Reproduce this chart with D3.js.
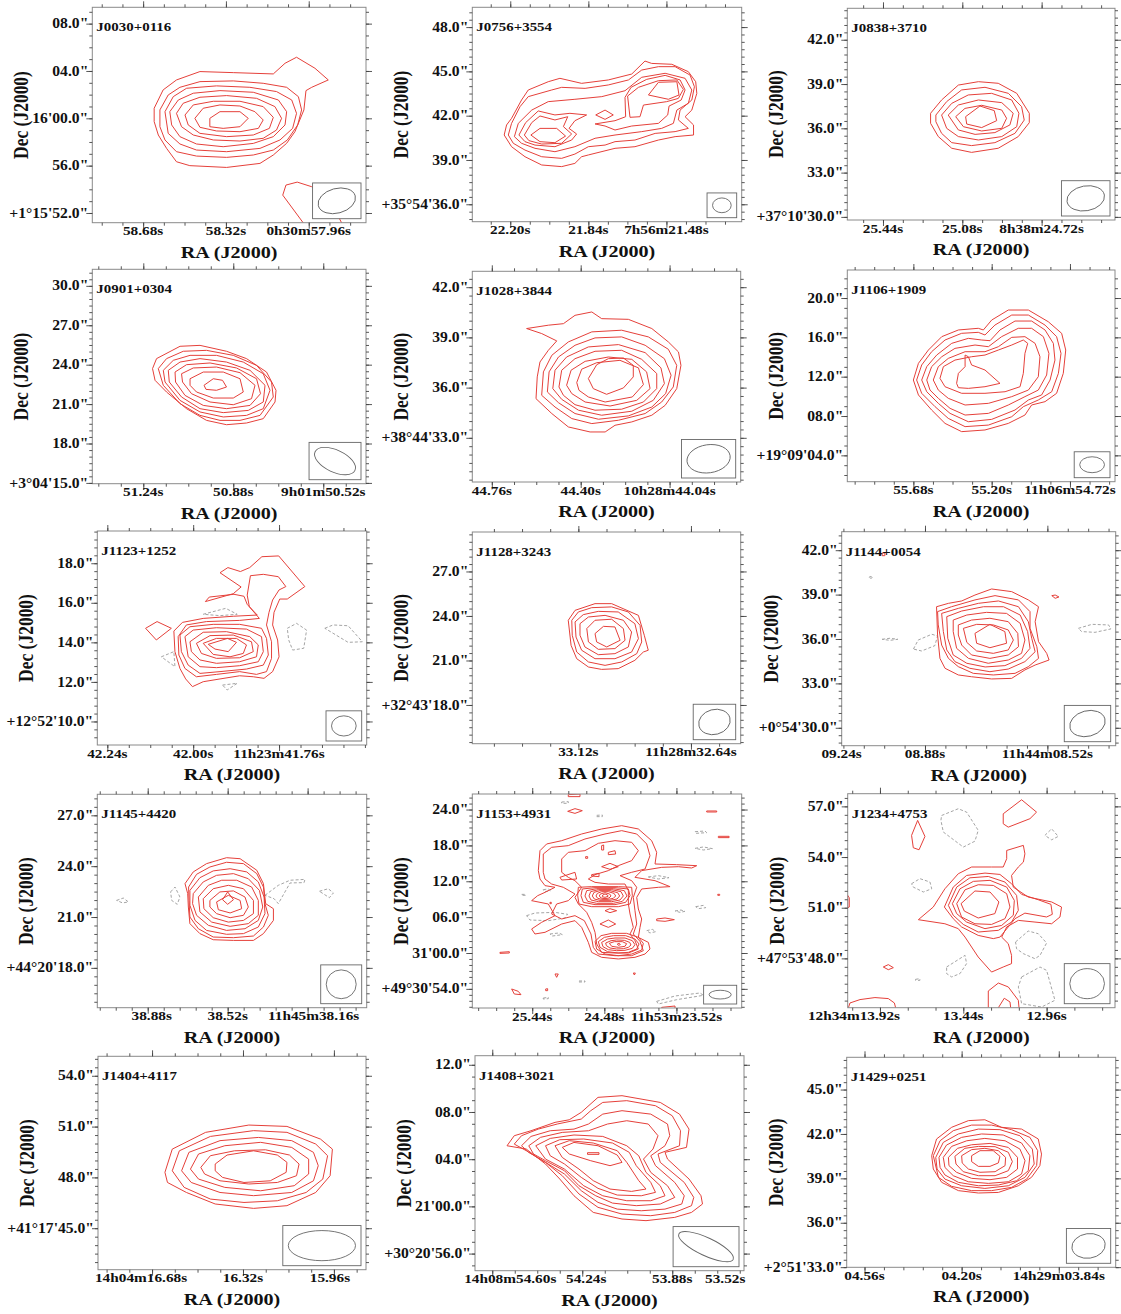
<!DOCTYPE html>
<html><head><meta charset="utf-8">
<script src="https://cdn.jsdelivr.net/npm/d3@7"></script>
<style>
body{margin:0;background:#fff}
svg{display:block}
text{font-family:"Liberation Serif","Times New Roman",serif;font-weight:bold;fill:#111}
</style>
</head><body>
<svg id="fig" width="1121" height="1314"></svg>
<script>
// ---------------- Sources and axes ----------------
// RA offsets are in seconds of time (east positive), Dec offsets in arcsec,
// both relative to the central labelled tick of each map.
const names = ["J0030+0116","J0756+3554","J0838+3710","J0901+0304","J1028+3844","J1106+1909",
  "J1123+1252","J1128+3243","J1144+0054","J1145+4420","J1153+4931","J1234+4753",
  "J1404+4117","J1408+3021","J1429+0251"];

const raRange = [[0.581,-0.609],[0.535,-0.707],[0.522,-0.693],[0.564,-0.531],[0.439,-0.648],[0.885,-0.756],
  [0.268,-0.485],[0.452,-0.692],[0.245,-0.561],[0.587,-0.626],[1.758,-1.829],[0.666,-0.874],
  [0.574,-0.487],[0.429,-0.647],[0.426,-0.571]];
const decRange = [[-8.82,9.38],[-7.18,7.34],[-6.21,8.13],[-9.06,7.26],[-5.64,6.95],[-10.68,10.85],
  [-5.19,5.63],[-8.61,5.66],[-7.21,7.25],[-5.35,7.24],[-9.2,26.6],[-5.92,6.75],
  [-5.45,7.15],[-5.45,12.77],[-6.01,8.18]];

const raTicks = [[0.36,0,-0.36],[0.36,0,-0.36],[0.36,0,-0.36],[0.36,0,-0.36],[0.36,0,-0.36],[0.48,0,-0.48],
  [0.24,0,-0.24],[0,-0.48],[0.36,0,-0.36],[0.36,0,-0.36],[0.96,0,-0.96],[0.48,0,-0.48],
  [0.36,0,-0.36],[0.36,0,-0.36,-0.72],[0.36,0,-0.36]];
const raLabels = [["58.68s","58.32s","0h30m57.96s"],["22.20s","21.84s","7h56m21.48s"],["25.44s","25.08s","8h38m24.72s"],
  ["51.24s","50.88s","9h01m50.52s"],["44.76s","44.40s","10h28m44.04s"],["55.68s","55.20s","11h06m54.72s"],
  ["42.24s","42.00s","11h23m41.76s"],["33.12s","11h28m32.64s"],["09.24s","08.88s","11h44m08.52s"],
  ["38.88s","38.52s","11h45m38.16s"],["25.44s","24.48s","11h53m23.52s"],["12h34m13.92s","13.44s","12.96s"],
  ["14h04m16.68s","16.32s","15.96s"],["14h08m54.60s","54.24s","53.88s","53.52s"],["04.56s","04.20s","14h29m03.84s"]];
const raMinor = [0.09,0.09,0.09,0.09,0.09,0.12,0.06,0.12,0.06,0.072,0.24,0.16,0.09,0.09,0.072];

const decTicks = [[-8,-4,0,4,8],[-6,-3,0,3,6],[-6,-3,0,3,6],[-9,-6,-3,0,3,6],[-3,0,3,6],[-8,-4,0,4,8],
  [-4,-2,0,2,4],[-6,-3,0,3],[-6,-3,0,3,6],[-3,0,3,6],[-6,0,6,12,18,24],[-3,0,3,6],
  [-3,0,3,6],[-4,0,4,8,12],[-6,-3,0,3,6]];
const decLabels = [
  ["+1°15'52.0\"","56.0\"","16'00.0\"","04.0\"","08.0\""],
  ["+35°54'36.0\"","39.0\"","42.0\"","45.0\"","48.0\""],
  ["+37°10'30.0\"","33.0\"","36.0\"","39.0\"","42.0\""],
  ["+3°04'15.0\"","18.0\"","21.0\"","24.0\"","27.0\"","30.0\""],
  ["+38°44'33.0\"","36.0\"","39.0\"","42.0\""],
  ["+19°09'04.0\"","08.0\"","12.0\"","16.0\"","20.0\""],
  ["+12°52'10.0\"","12.0\"","14.0\"","16.0\"","18.0\""],
  ["+32°43'18.0\"","21.0\"","24.0\"","27.0\""],
  ["+0°54'30.0\"","33.0\"","36.0\"","39.0\"","42.0\""],
  ["+44°20'18.0\"","21.0\"","24.0\"","27.0\""],
  ["+49°30'54.0\"","31'00.0\"","06.0\"","12.0\"","18.0\"","24.0\""],
  ["+47°53'48.0\"","51.0\"","54.0\"","57.0\""],
  ["+41°17'45.0\"","48.0\"","51.0\"","54.0\""],
  ["+30°20'56.0\"","21'00.0\"","04.0\"","08.0\"","12.0\""],
  ["+2°51'33.0\"","36.0\"","39.0\"","42.0\"","45.0\""]];
const decMinor = [1,0.5,0.5,0.5,0.5,1,0.4,0.5,0.5,0.5,1,0.5,0.5,1,0.5];

// restoring beam: [RA semi-axis (s), Dec semi-axis ("), position angle on the page (deg)]
const beams = [[0.083,1.04,-15],[0.043,0.50,0],[0.086,0.84,-10],[0.088,0.84,25],[0.088,0.84,-8],[0.076,0.81,0],
  [0.0345,0.51,0],[0.068,0.84,-15],[0.053,0.86,-15],[0.0675,0.85,0],[0.147,0.73,0],[0.100,0.89,0],
  [0.133,0.89,0],[0.120,0.76,25],[0.062,0.83,-8]];

// ---------------- Contours ----------------
const J0030_pos = [
 [[0.312,0.85],[0.273,2.40],[0.215,3.24],[0.113,3.95],[-0.032,3.86],[-0.206,3.75],[-0.257,4.65],[-0.307,5.16],[-0.387,4.23],[-0.445,3.24],[-0.373,2.62],[-0.348,2.34],[-0.339,0.71],[-0.300,-1.13],[-0.264,-2.11],[-0.206,-3.10],[-0.148,-3.81],[-0.003,-4.15],[0.157,-4.00],[0.215,-3.67],[0.258,-2.54],[0.294,-1.41],[0.312,-0.28]],
 [[0.287,0.71],[0.251,1.97],[0.200,2.62],[0.113,3.10],[-0.032,3.16],[-0.162,2.96],[-0.264,2.62],[-0.315,1.83],[-0.329,0.71],[-0.312,-0.56],[-0.267,-1.83],[-0.206,-2.68],[-0.119,-3.10],[-0.003,-3.30],[0.128,-3.19],[0.215,-2.82],[0.265,-1.83],[0.287,-0.71]],
 [[0.265,0.56],[0.229,1.83],[0.171,2.54],[0.041,2.74],[-0.104,2.62],[-0.220,2.26],[-0.286,1.55],[-0.307,0.42],[-0.290,-0.85],[-0.235,-1.83],[-0.148,-2.54],[-0.003,-2.82],[0.128,-2.68],[0.200,-2.17],[0.251,-1.27]],
 [[0.244,0.56],[0.207,1.55],[0.142,2.12],[0.026,2.34],[-0.119,2.20],[-0.228,1.55],[-0.264,0.56],[-0.257,-0.56],[-0.206,-1.55],[-0.119,-2.12],[0.012,-2.40],[0.128,-2.17],[0.200,-1.55],[0.236,-0.56]],
 [[0.215,0.42],[0.186,1.27],[0.113,1.78],[-0.003,1.92],[-0.133,1.69],[-0.213,0.99],[-0.242,0.00],[-0.220,-0.99],[-0.162,-1.69],[-0.061,-1.92],[0.055,-1.83],[0.142,-1.41],[0.193,-0.71]],
 [[0.178,0.28],[0.142,1.13],[0.055,1.44],[-0.061,1.44],[-0.162,0.99],[-0.206,0.08],[-0.189,-0.85],[-0.119,-1.41],[-0.003,-1.55],[0.113,-1.27],[0.164,-0.56]],
 [[0.135,0.00],[0.099,0.85],[0.026,1.13],[-0.061,1.04],[-0.126,0.56],[-0.162,-0.14],[-0.141,-0.85],[-0.061,-1.13],[0.041,-1.07],[0.113,-0.76]],
 [[0.070,0.00],[0.026,0.56],[-0.061,0.56],[-0.097,0.00],[-0.061,-0.71],[0.012,-0.85],[0.070,-0.71]]];
const J0030_open = [[[-0.336,-8.83],[-0.247,-6.49],[-0.261,-5.64],[-0.310,-5.39],[-0.373,-5.78],[-0.452,-6.91],[-0.503,-8.83]]];
const J0030_neg = [];

const J0756_pos = [
 [[0.388,-1.31],[0.377,-0.63],[0.354,-0.18],[0.308,1.06],[0.277,1.74],[0.185,2.30],[0.131,2.53],[0.031,2.19],[-0.092,2.42],[-0.200,2.82],[-0.261,3.70],[-0.292,3.54],[-0.385,3.48],[-0.461,2.98],[-0.495,2.30],[-0.500,1.51],[-0.477,0.38],[-0.446,-0.07],[-0.485,-0.63],[-0.485,-1.31],[-0.400,-1.42],[-0.323,-1.65],[-0.215,-2.10],[-0.123,-2.21],[0.000,-2.66],[0.031,-2.78],[0.062,-3.23],[0.123,-3.45],[0.215,-3.34],[0.292,-2.78],[0.354,-2.10]],
 [[0.369,-1.31],[0.354,-0.52],[0.315,0.61],[0.277,1.29],[0.169,1.74],[0.123,1.92],[0.015,1.85],[-0.092,2.08],[-0.185,2.42],[-0.246,3.09],[-0.323,3.32],[-0.400,3.32],[-0.469,2.75],[-0.489,1.96],[-0.477,1.06],[-0.423,0.38],[-0.415,-0.29],[-0.461,-0.86],[-0.400,-1.08],[-0.308,-1.20],[-0.215,-1.65],[-0.123,-1.76],[-0.077,-1.99],[0.000,-2.10],[0.062,-2.60],[0.123,-2.89],[0.215,-2.78],[0.292,-2.33],[0.346,-1.87]],
 [[0.341,-1.42],[0.323,-0.52],[0.261,0.38],[0.185,0.95],[0.062,1.11],[-0.062,1.29],[-0.169,1.69],[-0.246,2.60],[-0.354,2.87],[-0.446,2.53],[-0.477,1.74],[-0.461,0.84],[-0.408,0.38],[-0.392,-0.52],[-0.338,-0.86],[-0.246,-1.08],[-0.123,-1.31],[-0.031,-1.53],[0.062,-2.10],[0.154,-2.44],[0.246,-2.21],[0.308,-1.87]],
 [[0.320,-1.31],[0.289,-0.47],[0.231,0.32],[0.154,0.05],[0.085,0.16],[0.008,0.05],[0.062,-0.34],[0.089,-0.86],[0.054,-1.24],[0.077,-1.65],[0.154,-2.10],[0.246,-1.99],[0.292,-1.76]],
 [[0.295,-1.31],[0.261,-0.47],[0.223,-0.02],[0.154,-0.29],[0.095,-0.07],[0.115,-0.74],[0.077,-1.24],[0.123,-1.87],[0.215,-1.92],[0.274,-1.69]],
 [[0.265,-1.31],[0.223,-0.86],[0.146,-0.86],[0.105,-1.38],[0.154,-1.83],[0.223,-1.76]],
 [[-0.034,0.05],[-0.077,0.38],[-0.115,0.05],[-0.077,-0.25]],
 [[-0.169,1.24],[-0.197,1.92],[-0.269,2.46],[-0.354,2.73],[-0.423,2.42],[-0.446,1.74],[-0.428,1.06],[-0.372,0.65],[-0.366,0.05],[-0.323,-0.52],[-0.200,-0.70],[-0.123,-0.97],[-0.077,-0.70],[-0.031,-0.56],[-0.123,-0.34],[-0.172,-0.07]],
 [[-0.181,1.33],[-0.231,1.92],[-0.323,2.37],[-0.408,2.42],[-0.438,1.78],[-0.415,1.17],[-0.361,0.95],[-0.254,0.72],[-0.238,-0.07],[-0.192,-0.11]],
 [[-0.277,1.40],[-0.323,2.26],[-0.408,2.30],[-0.418,1.40],[-0.369,1.11]]];
const J0756_open = [];
const J0756_neg = [];

const J0838_pos = [
 [[0.144,1.02],[0.094,1.92],[0.018,2.93],[-0.073,3.16],[-0.163,3.05],[-0.247,2.37],[-0.304,1.02],[-0.304,0.38],[-0.254,-0.56],[-0.163,-1.35],[-0.042,-1.63],[0.048,-1.35],[0.109,-0.56],[0.144,0.34]],
 [[0.120,0.90],[0.071,1.81],[0.003,2.60],[-0.103,2.78],[-0.209,2.37],[-0.269,1.47],[-0.281,0.56],[-0.239,-0.34],[-0.148,-0.97],[-0.042,-1.17],[0.048,-0.97],[0.094,-0.34],[0.120,0.45]],
 [[0.094,0.90],[0.048,1.69],[-0.027,2.26],[-0.133,2.37],[-0.224,1.92],[-0.257,1.02],[-0.247,0.11],[-0.179,-0.56],[-0.073,-0.79],[0.018,-0.56],[0.071,0.00]],
 [[0.064,0.90],[0.018,1.58],[-0.073,1.92],[-0.179,1.74],[-0.231,1.02],[-0.216,0.23],[-0.148,-0.29],[-0.058,-0.41],[0.018,-0.11]],
 [[0.030,0.79],[-0.012,1.35],[-0.088,1.56],[-0.179,1.24],[-0.201,0.68],[-0.179,0.00],[-0.088,-0.18],[-0.005,0.11]],
 [[-0.015,0.79],[-0.080,1.51],[-0.145,1.20],[-0.156,0.52],[-0.088,0.05],[-0.020,0.29]]];
const J0838_open = [];
const J0838_neg = [];

const J0901_pos = [
 [[0.323,-0.30],[0.307,0.46],[0.213,1.40],[0.133,1.47],[0.027,1.02],[-0.053,0.46],[-0.133,-0.56],[-0.171,-1.95],[-0.167,-2.84],[-0.120,-4.11],[-0.053,-4.44],[0.027,-4.57],[0.107,-4.24],[0.187,-3.35],[0.267,-2.08],[0.313,-1.19]],
 [[0.300,-0.30],[0.267,0.46],[0.200,1.02],[0.107,1.09],[0.000,0.71],[-0.093,-0.05],[-0.153,-1.32],[-0.160,-2.46],[-0.107,-3.86],[-0.027,-4.24],[0.053,-4.24],[0.133,-3.86],[0.213,-2.97],[0.280,-1.57]],
 [[0.280,-0.43],[0.240,0.33],[0.173,0.71],[0.067,0.71],[-0.040,0.20],[-0.120,-0.69],[-0.147,-1.95],[-0.120,-3.35],[-0.053,-3.86],[0.040,-3.98],[0.133,-3.60],[0.213,-2.72],[0.273,-1.32]],
 [[0.260,-0.43],[0.213,0.20],[0.133,0.46],[0.027,0.20],[-0.067,-0.43],[-0.127,-1.57],[-0.120,-2.84],[-0.060,-3.48],[0.040,-3.65],[0.133,-3.35],[0.207,-2.46],[0.256,-1.32]],
 [[0.233,-0.56],[0.187,0.00],[0.093,0.13],[-0.013,-0.25],[-0.093,-1.07],[-0.109,-2.21],[-0.067,-3.10],[0.027,-3.35],[0.120,-3.10],[0.193,-2.34],[0.231,-1.32]],
 [[0.207,-0.69],[0.160,-0.25],[0.067,-0.18],[-0.027,-0.61],[-0.087,-1.57],[-0.073,-2.59],[0.000,-3.05],[0.093,-2.84],[0.167,-2.21],[0.203,-1.32]],
 [[0.173,-1.07],[0.120,-0.56],[0.040,-0.56],[-0.027,-1.07],[-0.040,-2.08],[0.000,-2.54],[0.080,-2.54],[0.147,-2.08],[0.173,-1.57]],
 [[0.117,-1.57],[0.080,-1.07],[0.043,-1.19],[0.027,-1.70],[0.067,-1.95],[0.109,-1.88]]];
const J0901_open = [];
const J0901_neg = [];

const J1028_pos = [
 [[0.219,3.53],[0.131,3.73],[0.070,3.82],[0.023,4.32],[-0.045,4.52],[-0.085,4.12],[-0.193,4.08],[-0.288,3.53],[-0.355,2.73],[-0.396,2.13],[-0.406,1.33],[-0.389,-0.06],[-0.342,-1.06],[-0.288,-1.65],[-0.207,-2.05],[-0.139,-2.25],[-0.099,-2.65],[-0.038,-2.65],[0.050,-2.35],[0.117,-1.55],[0.181,-0.66],[0.176,0.64],[0.165,1.53],[0.131,2.23],[0.097,2.79],[0.158,3.23]],
 [[0.158,-0.46],[0.151,0.94],[0.117,1.93],[0.050,2.73],[-0.045,3.33],[-0.166,3.43],[-0.274,3.03],[-0.355,2.29],[-0.389,1.33],[-0.375,0.04],[-0.328,-0.86],[-0.261,-1.55],[-0.153,-1.95],[-0.045,-2.15],[0.036,-1.85],[0.104,-1.16]],
 [[0.135,-0.26],[0.128,0.94],[0.090,1.83],[0.023,2.53],[-0.058,2.97],[-0.166,3.03],[-0.261,2.53],[-0.339,1.73],[-0.366,0.74],[-0.344,-0.36],[-0.288,-1.16],[-0.193,-1.69],[-0.072,-1.89],[0.023,-1.55],[0.090,-0.90]],
 [[0.113,-0.06],[0.104,1.04],[0.057,1.83],[-0.031,2.43],[-0.153,2.57],[-0.261,2.09],[-0.325,1.18],[-0.339,0.24],[-0.294,-0.76],[-0.207,-1.41],[-0.085,-1.65],[0.009,-1.35],[0.077,-0.70]],
 [[0.088,0.04],[0.077,1.04],[0.023,1.73],[-0.058,2.17],[-0.166,2.23],[-0.247,1.69],[-0.308,0.84],[-0.308,-0.06],[-0.254,-0.86],[-0.166,-1.29],[-0.058,-1.35],[0.023,-1.02],[0.070,-0.46]],
 [[0.057,0.14],[0.039,1.04],[-0.018,1.57],[-0.112,1.83],[-0.207,1.69],[-0.267,0.94],[-0.281,-0.06],[-0.227,-0.76],[-0.119,-1.10],[-0.018,-0.86],[0.036,-0.36]],
 [[0.016,0.30],[-0.004,1.10],[-0.065,1.49],[-0.159,1.63],[-0.234,1.18],[-0.254,0.18],[-0.209,-0.56],[-0.099,-0.86],[-0.031,-0.56],[0.007,-0.16]],
 [[-0.031,0.54],[-0.065,1.37],[-0.112,1.73],[-0.173,1.77],[-0.213,1.33],[-0.213,0.64],[-0.173,-0.02],[-0.105,-0.40],[-0.051,-0.06]]];
const J1028_open = [];
const J1028_neg = [];

const J1106_pos = [
 [[0.480,-0.34],[0.449,1.36],[0.388,2.71],[0.306,4.07],[0.204,4.75],[0.082,4.92],[0.051,4.75],[0.000,5.76],[-0.102,6.78],[-0.225,6.78],[-0.347,5.59],[-0.429,4.41],[-0.454,2.71],[-0.439,0.34],[-0.398,-1.69],[-0.327,-2.54],[-0.245,-2.88],[-0.204,-3.90],[-0.102,-4.75],[0.041,-5.42],[0.184,-5.59],[0.286,-4.75],[0.368,-3.39],[0.449,-1.86]],
 [[0.460,-0.34],[0.429,1.19],[0.368,2.54],[0.286,3.73],[0.184,4.41],[0.082,4.51],[0.041,4.24],[-0.020,5.25],[-0.123,6.27],[-0.225,6.27],[-0.327,5.25],[-0.398,4.07],[-0.425,2.37],[-0.409,0.34],[-0.368,-1.53],[-0.286,-2.37],[-0.194,-3.05],[-0.123,-4.07],[0.020,-4.92],[0.163,-5.08],[0.266,-4.24],[0.347,-3.05],[0.429,-1.69]],
 [[0.429,-0.34],[0.398,1.02],[0.337,2.20],[0.245,3.39],[0.143,3.90],[0.061,3.73],[0.010,3.66],[-0.051,4.75],[-0.143,5.66],[-0.245,5.66],[-0.327,4.75],[-0.378,3.39],[-0.388,1.69],[-0.358,-0.34],[-0.306,-1.86],[-0.225,-2.37],[-0.143,-3.39],[0.000,-4.34],[0.143,-4.58],[0.255,-3.73],[0.327,-2.71],[0.398,-1.53]],
 [[0.398,-0.34],[0.368,1.02],[0.306,2.03],[0.225,2.88],[0.102,3.22],[0.020,3.05],[-0.061,4.07],[-0.163,4.92],[-0.245,4.92],[-0.317,4.07],[-0.351,2.37],[-0.337,0.17],[-0.286,-1.36],[-0.204,-2.03],[-0.102,-2.88],[0.020,-3.73],[0.163,-3.90],[0.255,-3.22],[0.327,-2.20],[0.378,-1.36]],
 [[0.358,-0.34],[0.327,1.02],[0.266,1.86],[0.163,2.54],[0.041,2.54],[-0.041,3.05],[-0.123,4.00],[-0.204,4.07],[-0.266,3.39],[-0.296,2.03],[-0.286,0.00],[-0.225,-1.36],[-0.123,-2.03],[0.020,-2.71],[0.163,-2.88],[0.266,-2.20],[0.327,-1.36]],
 [[0.317,-0.17],[0.296,1.02],[0.225,1.69],[0.123,2.03],[0.041,2.20],[-0.041,2.71],[-0.123,3.22],[-0.194,3.73],[-0.221,3.39],[-0.204,2.37],[-0.194,0.34],[-0.174,-1.02],[-0.082,-1.53],[0.041,-1.69],[0.184,-1.69],[0.286,-1.02]],
 [[0.215,-0.68],[0.204,0.34],[0.163,1.02],[0.163,2.20],[0.143,2.03],[0.123,1.19],[0.041,0.68],[-0.051,-0.68],[0.041,-1.02],[0.143,-1.19],[0.204,-1.12]]];
const J1106_open = [];
const J1106_neg = [];

const J1123_pos = [
 [[0.054,0.57],[0.030,1.01],[-0.028,1.21],[-0.112,1.32],[-0.179,1.38],[-0.151,1.92],[-0.142,2.33],[-0.114,2.43],[-0.045,2.29],[-0.034,2.06],[-0.112,2.46],[-0.134,2.80],[-0.075,3.52],[-0.097,3.78],[-0.132,3.58],[-0.158,3.78],[-0.192,4.33],[-0.239,4.37],[-0.312,2.82],[-0.263,2.19],[-0.242,2.19],[-0.226,1.52],[-0.222,0.88],[-0.236,0.12],[-0.240,-0.73],[-0.222,-1.48],[-0.198,-1.82],[-0.168,-1.74],[-0.130,-1.69],[-0.075,-1.85],[-0.028,-1.99],[0.002,-2.24],[0.021,-1.85],[0.037,-1.32],[0.051,-0.47]],
 [[0.042,0.29],[0.019,0.88],[-0.037,1.05],[-0.130,1.11],[-0.185,1.21],[-0.157,1.80],[-0.151,2.39],[-0.160,3.37],[-0.196,3.44],[-0.238,3.32],[-0.259,2.82],[-0.240,2.65],[-0.222,2.14],[-0.212,1.52],[-0.205,0.88],[-0.219,0.03],[-0.219,-0.81],[-0.205,-1.48],[-0.177,-1.62],[-0.130,-1.48],[-0.065,-1.62],[-0.009,-1.74],[0.023,-1.32],[0.040,-0.64]],
 [[0.037,0.37],[0.009,0.79],[-0.056,0.91],[-0.130,0.91],[-0.191,0.71],[-0.205,0.20],[-0.210,-0.64],[-0.196,-1.15],[-0.149,-1.35],[-0.075,-1.48],[-0.019,-1.57],[0.014,-1.15],[0.033,-0.47]],
 [[0.023,0.29],[0.000,0.62],[-0.065,0.74],[-0.149,0.67],[-0.191,0.29],[-0.196,-0.47],[-0.182,-0.98],[-0.130,-1.18],[-0.065,-1.28],[-0.019,-1.23],[0.014,-0.73]],
 [[0.009,0.03],[-0.028,0.51],[-0.093,0.54],[-0.158,0.29],[-0.182,-0.13],[-0.177,-0.73],[-0.130,-0.98],[-0.065,-1.06],[-0.019,-0.89],[0.005,-0.47]],
 [[-0.009,-0.05],[-0.047,0.34],[-0.112,0.37],[-0.163,0.03],[-0.168,-0.47],[-0.130,-0.78],[-0.065,-0.81],[-0.023,-0.56]],
 [[-0.028,-0.05],[-0.065,0.20],[-0.121,0.20],[-0.149,-0.13],[-0.140,-0.56],[-0.103,-0.73],[-0.056,-0.61]],
 [[-0.042,-0.10],[-0.096,0.20],[-0.121,0.00],[-0.098,-0.47],[-0.061,-0.34]],
 [[0.133,0.71],[0.101,1.05],[0.061,0.71],[0.103,0.12]]];
const J1123_open = [];
const J1123_neg = [
 [[-0.028,1.42],[-0.091,1.72],[-0.123,1.42],[-0.075,1.35]],
 [[0.089,-0.73],[0.054,-0.47],[0.051,-1.23]],
 [[-0.082,-2.16],[-0.123,-2.07],[-0.095,-2.41]],
 [[-0.263,0.71],[-0.289,0.96],[-0.317,0.62],[-0.309,-0.30],[-0.278,-0.39],[-0.267,0.12]],
 [[-0.368,0.71],[-0.391,0.88],[-0.433,0.84],[-0.473,0.03],[-0.433,0.00],[-0.391,0.46]]];

const J1128_pos = [
 [[0.043,-0.29],[0.014,0.38],[-0.071,0.83],[-0.142,0.83],[-0.256,0.04],[-0.281,-1.30],[-0.298,-2.31],[-0.277,-2.43],[-0.241,-2.99],[-0.170,-3.55],[-0.099,-3.60],[-0.043,-3.44],[0.007,-2.88],[0.031,-1.98]],
 [[0.028,-0.29],[0.000,0.27],[-0.057,0.56],[-0.142,0.61],[-0.213,0.27],[-0.263,-0.63],[-0.270,-1.75],[-0.249,-2.54],[-0.185,-3.10],[-0.114,-3.33],[-0.043,-3.10],[0.007,-2.43],[0.026,-1.30]],
 [[0.014,-0.40],[-0.021,0.09],[-0.085,0.31],[-0.170,0.27],[-0.241,-0.52],[-0.256,-1.53],[-0.227,-2.43],[-0.156,-2.88],[-0.071,-2.88],[-0.014,-2.31],[0.010,-1.42]],
 [[-0.007,-0.52],[-0.043,-0.07],[-0.114,0.04],[-0.192,-0.29],[-0.227,-1.08],[-0.213,-2.09],[-0.156,-2.54],[-0.085,-2.61],[-0.028,-2.09],[-0.007,-1.30]],
 [[-0.036,-0.85],[-0.071,-0.29],[-0.142,-0.22],[-0.192,-0.85],[-0.199,-1.64],[-0.156,-2.20],[-0.085,-2.25],[-0.043,-1.75]],
 [[-0.071,-1.19],[-0.107,-0.70],[-0.156,-0.74],[-0.178,-1.64],[-0.121,-2.09],[-0.078,-1.75]]];
const J1128_open = [];
const J1128_neg = [];

const J1144_pos = [
 [[-0.034,2.18],[-0.069,2.41],[-0.108,2.57],[-0.147,2.97],[-0.196,3.38],[-0.255,3.20],[-0.304,2.64],[-0.334,2.18],[-0.324,1.17],[-0.334,-0.18],[-0.358,-0.97],[-0.365,-1.42],[-0.324,-1.76],[-0.294,-2.09],[-0.255,-2.66],[-0.196,-2.70],[-0.137,-2.55],[-0.098,-2.43],[-0.059,-1.98],[-0.044,-1.31],[-0.037,0.27]],
 [[-0.037,1.85],[-0.078,2.18],[-0.147,2.64],[-0.206,2.93],[-0.275,2.64],[-0.309,1.85],[-0.309,0.72],[-0.329,-0.52],[-0.334,-1.31],[-0.304,-1.87],[-0.265,-2.32],[-0.201,-2.43],[-0.142,-2.32],[-0.098,-1.87],[-0.069,-1.31],[-0.049,-0.41],[-0.039,0.95]],
 [[-0.049,1.73],[-0.098,2.07],[-0.157,2.41],[-0.216,2.57],[-0.275,2.18],[-0.304,1.17],[-0.314,0.05],[-0.324,-0.86],[-0.294,-1.53],[-0.245,-2.03],[-0.191,-2.21],[-0.132,-1.98],[-0.088,-1.53],[-0.064,-0.74],[-0.054,0.50]],
 [[-0.064,1.51],[-0.108,1.89],[-0.172,2.18],[-0.231,2.18],[-0.280,1.62],[-0.302,0.50],[-0.309,-0.63],[-0.284,-1.31],[-0.235,-1.80],[-0.177,-1.89],[-0.123,-1.64],[-0.083,-1.08],[-0.067,0.05]],
 [[-0.083,1.28],[-0.123,1.62],[-0.181,1.80],[-0.240,1.73],[-0.280,1.06],[-0.294,-0.07],[-0.284,-0.97],[-0.245,-1.42],[-0.186,-1.64],[-0.128,-1.31],[-0.093,-0.63],[-0.083,0.50]],
 [[-0.098,0.95],[-0.137,1.28],[-0.191,1.40],[-0.245,1.17],[-0.273,0.38],[-0.275,-0.52],[-0.245,-1.08],[-0.191,-1.31],[-0.137,-1.08],[-0.108,-0.41],[-0.098,0.27]],
 [[-0.113,0.72],[-0.152,0.99],[-0.201,0.95],[-0.245,0.61],[-0.260,-0.07],[-0.245,-0.74],[-0.201,-0.97],[-0.152,-0.81],[-0.123,-0.23]],
 [[-0.147,0.38],[-0.191,0.99],[-0.235,0.50],[-0.240,-0.29],[-0.191,-0.59],[-0.152,-0.29]],
 [[-0.373,2.93],[-0.383,2.97],[-0.394,2.84],[-0.383,2.75]],
 [[0.126,5.81],[0.118,5.81],[0.118,5.63],[0.126,5.63]]];
const J1144_open = [];
const J1144_neg = [
 [[0.034,-0.68],[0.020,-0.07],[-0.020,0.32],[-0.037,0.20],[-0.029,-0.45],[0.010,-0.81]],
 [[0.126,-0.02],[0.103,0.05],[0.080,-0.02],[0.103,-0.09]],
 [[0.165,4.17],[0.159,4.23],[0.153,4.17],[0.159,4.10]],
 [[-0.451,0.72],[-0.491,0.99],[-0.540,0.95],[-0.547,0.68],[-0.500,0.45],[-0.461,0.50]]];

const J1145_pos = [
 [[0.192,1.97],[0.155,2.66],[0.095,3.15],[0.005,3.50],[-0.056,3.44],[-0.131,2.76],[-0.161,1.97],[-0.171,0.79],[-0.206,0.49],[-0.206,-0.20],[-0.161,-0.98],[-0.116,-1.38],[-0.026,-1.38],[0.065,-1.34],[0.125,-0.98],[0.170,-0.39],[0.177,0.59],[0.180,1.38]],
 [[0.176,1.77],[0.140,2.52],[0.080,2.95],[0.005,3.23],[-0.071,3.15],[-0.131,2.56],[-0.161,1.77],[-0.168,0.79],[-0.183,0.10],[-0.161,-0.59],[-0.116,-1.12],[-0.026,-1.22],[0.065,-1.18],[0.132,-0.69],[0.170,0.00],[0.174,0.98]],
 [[0.170,1.57],[0.125,2.32],[0.065,2.72],[-0.011,2.85],[-0.086,2.66],[-0.138,2.07],[-0.164,1.18],[-0.168,0.20],[-0.138,-0.59],[-0.071,-0.98],[0.005,-1.02],[0.095,-0.79],[0.147,-0.20],[0.170,0.69]],
 [[0.155,1.38],[0.110,2.07],[0.050,2.46],[-0.026,2.56],[-0.093,2.26],[-0.143,1.57],[-0.158,0.59],[-0.138,-0.20],[-0.078,-0.69],[0.005,-0.79],[0.087,-0.49],[0.140,0.10],[0.158,0.79]],
 [[0.132,1.18],[0.087,1.87],[0.027,2.17],[-0.041,2.17],[-0.108,1.77],[-0.138,0.98],[-0.138,0.10],[-0.093,-0.39],[-0.011,-0.55],[0.072,-0.30],[0.125,0.30]],
 [[0.110,1.08],[0.065,1.67],[-0.003,1.87],[-0.071,1.67],[-0.116,0.98],[-0.116,0.20],[-0.071,-0.20],[-0.003,-0.30],[0.065,-0.04],[0.107,0.49]],
 [[0.080,0.98],[0.035,1.48],[-0.026,1.54],[-0.078,1.18],[-0.093,0.59],[-0.071,0.10],[-0.011,-0.04],[0.050,0.20],[0.080,0.59]],
 [[0.050,0.89],[-0.003,1.28],[-0.056,0.98],[-0.063,0.49],[-0.011,0.24],[0.042,0.43]],
 [[0.023,1.02],[0.000,1.48],[-0.026,1.02],[0.000,0.75]]];
const J1145_open = [];
const J1145_neg = [
 [[0.500,0.98],[0.470,1.12],[0.447,0.89],[0.473,0.83]],
 [[0.257,1.48],[0.237,1.77],[0.215,1.18],[0.227,0.75],[0.252,0.98]],
 [[-0.168,1.28],[-0.228,1.87],[-0.281,2.17],[-0.348,2.22],[-0.344,2.03],[-0.281,2.01],[-0.228,0.79],[-0.209,1.08]],
 [[-0.413,1.52],[-0.453,1.67],[-0.476,1.42],[-0.458,1.14]]];

const J1153_pos = [
 [[0.879,13.78],[0.857,17.12],[0.768,18.24],[0.568,18.79],[0.302,19.91],[0.036,20.75],[-0.231,21.30],[-0.453,20.75],[-0.630,18.79],[-0.697,16.84],[-0.675,14.89],[-0.963,14.78],[-1.230,14.61],[-1.163,14.22],[-0.986,14.44],[-0.764,14.33],[-0.497,13.78],[-0.408,12.66],[-0.675,12.10],[-0.875,11.10],[-0.719,10.99],[-0.497,10.71],[-0.431,9.31],[-0.453,7.36],[-0.497,5.69],[-0.475,4.29],[-0.453,2.62],[-0.586,1.78],[-0.608,0.67],[-0.542,-0.17],[-0.408,-0.72],[-0.186,-1.00],[0.036,-0.72],[0.169,0.11],[0.213,1.78],[0.302,4.29],[0.391,5.41],[0.568,4.85],[0.790,3.46],[0.924,3.18],[0.968,4.02],[0.835,5.13],[0.657,6.25],[0.746,8.20],[0.968,8.76],[0.888,9.59],[0.790,10.15],[0.657,10.99],[0.790,11.27],[0.857,12.38]],
 [[0.813,13.50],[0.813,16.56],[0.702,17.68],[0.480,17.96],[0.258,19.07],[-0.009,19.91],[-0.231,20.47],[-0.431,19.91],[-0.564,18.24],[-0.608,16.28],[-0.542,14.05],[-0.364,13.50],[-0.209,12.94],[-0.364,12.10],[-0.431,10.99],[-0.386,9.31],[-0.408,7.08],[-0.431,4.85],[-0.386,3.18],[-0.475,1.95],[-0.519,0.39],[-0.364,-0.45],[-0.142,-0.45],[0.080,-0.17],[0.147,0.95],[0.178,3.18],[0.266,5.41],[0.391,6.25],[0.568,5.69],[0.702,6.53],[0.635,8.20],[0.480,8.76],[0.391,9.87],[0.546,10.99],[0.702,11.54],[0.790,12.38]],
 [[0.568,13.50],[0.568,15.73],[0.480,16.84],[0.258,17.12],[0.080,18.35],[-0.142,18.79],[-0.364,18.52],[-0.453,17.12],[-0.364,15.45],[-0.186,14.61],[-0.053,13.78],[0.124,13.11],[0.213,12.38],[0.124,11.82],[-0.053,11.54],[-0.275,11.54],[-0.320,10.43],[-0.320,8.20],[-0.342,6.53],[-0.386,4.29],[-0.342,3.18],[-0.408,2.06],[-0.453,0.67],[-0.320,0.00],[-0.142,0.00],[0.036,0.11],[0.102,1.51],[0.124,3.46],[0.169,5.13],[0.235,6.80],[0.346,8.20],[0.391,9.31],[0.302,10.99],[0.391,12.10],[0.480,12.66]],
 [[0.591,12.66],[0.391,13.50],[0.369,12.38],[0.568,12.21]],
 [[0.169,13.11],[0.071,13.33],[0.071,12.77],[0.169,12.88]],
 [[0.036,14.44],[-0.075,15.00],[-0.186,14.44],[-0.075,14.00]],
 [[-0.053,16.84],[-0.142,17.12],[-0.151,16.56],[-0.053,16.45]],
 [[0.036,17.96],[0.009,18.07],[0.009,17.23],[0.036,17.23]],
 [[0.249,16.12],[0.222,16.12],[0.222,15.84],[0.249,15.84]],
 [[0.346,10.99],[0.169,11.10],[-0.186,11.10],[-0.364,10.99],[-0.373,9.59],[-0.342,8.20],[-0.186,7.75],[0.169,7.75],[0.337,8.20],[0.355,9.59]],
 [[0.293,10.71],[0.124,10.93],[-0.142,10.93],[-0.320,10.71],[-0.342,9.59],[-0.284,8.48],[-0.142,8.09],[0.124,8.09],[0.280,8.48],[0.311,9.59]],
 [[0.235,10.43],[0.102,10.76],[-0.120,10.76],[-0.266,10.43],[-0.302,9.54],[-0.240,8.64],[-0.120,8.31],[0.102,8.31],[0.222,8.64],[0.258,9.54]],
 [[0.182,10.26],[0.080,10.60],[-0.098,10.60],[-0.222,10.26],[-0.253,9.54],[-0.209,8.87],[-0.098,8.59],[0.080,8.59],[0.178,8.87],[0.204,9.54]],
 [[0.138,10.15],[0.058,10.43],[-0.075,10.43],[-0.178,10.09],[-0.204,9.54],[-0.169,9.03],[-0.075,8.81],[0.058,8.81],[0.133,9.03],[0.160,9.54]],
 [[0.093,9.98],[0.036,10.26],[-0.053,10.26],[-0.129,9.98],[-0.151,9.54],[-0.120,9.15],[-0.053,8.98],[0.036,8.98],[0.089,9.15],[0.111,9.54]],
 [[0.053,9.87],[-0.009,10.09],[-0.071,9.87],[-0.089,9.54],[-0.062,9.20],[-0.009,9.09],[0.044,9.20],[0.067,9.54]],
 [[0.022,9.70],[-0.009,9.87],[-0.044,9.70],[-0.049,9.48],[-0.009,9.31],[0.027,9.42]],
 [[-0.009,7.08],[-0.075,7.42],[-0.164,7.08],[-0.075,6.75]],
 [[0.058,4.85],[-0.053,5.52],[-0.151,4.85],[-0.053,4.29]],
 [[0.124,1.95],[0.044,2.90],[-0.098,3.29],[-0.297,3.29],[-0.453,2.62],[-0.519,1.62],[-0.497,0.50],[-0.364,-0.17],[-0.186,-0.45],[-0.009,-0.17],[0.102,0.67]],
 [[0.080,1.90],[0.000,2.62],[-0.120,2.90],[-0.284,2.90],[-0.408,2.34],[-0.462,1.51],[-0.431,0.67],[-0.320,0.11],[-0.186,0.00],[-0.044,0.22],[0.058,0.95]],
 [[0.036,1.78],[-0.044,2.34],[-0.142,2.51],[-0.275,2.51],[-0.373,2.06],[-0.408,1.39],[-0.373,0.78],[-0.275,0.45],[-0.164,0.39],[-0.053,0.56],[0.018,1.06]],
 [[-0.018,1.67],[-0.089,2.06],[-0.164,2.18],[-0.266,2.12],[-0.337,1.78],[-0.355,1.34],[-0.320,0.95],[-0.253,0.72],[-0.164,0.67],[-0.075,0.84],[-0.027,1.23]],
 [[-0.067,1.62],[-0.133,1.90],[-0.240,1.90],[-0.297,1.56],[-0.275,1.12],[-0.186,0.95],[-0.098,1.12]],
 [[-0.173,1.51],[-0.200,1.62],[-0.213,1.39],[-0.186,1.28]],
 [[0.488,23.70],[0.391,24.15],[0.293,23.81],[0.391,23.36]],
 [[-1.363,23.76],[-1.496,23.76],[-1.496,23.59],[-1.363,23.59]],
 [[-1.518,19.52],[-1.661,19.52],[-1.661,19.30],[-1.518,19.30]],
 [[0.480,26.49],[0.324,26.60],[0.324,26.16],[0.480,26.16]],
 [[1.390,0.11],[1.265,0.22],[1.265,0.00],[1.390,-0.06]],
 [[0.657,-3.51],[0.613,-3.51],[0.635,-4.07]],
 [[0.781,-6.02],[0.755,-5.97],[0.755,-6.30],[0.781,-6.30]],
 [[1.234,-6.02],[1.146,-6.41],[1.110,-6.97],[1.199,-6.86]],
 [[-0.386,-3.35],[-0.413,-3.35],[-0.400,-3.68]],
 [[-0.697,5.69],[-0.808,5.86],[-0.932,5.58],[-0.808,5.30],[-0.697,5.41]],
 [[-1.510,9.82],[-1.536,9.82],[-1.536,9.65],[-1.510,9.65]],
 [[-0.764,-9.09],[-0.941,-8.87],[-0.941,-9.30],[-0.764,-9.30]],
 [[0.724,8.48],[0.706,8.48],[0.706,8.25],[0.724,8.25]]];
const J1153_open = [];
const J1153_neg = [
 [[1.035,6.25],[0.924,6.69],[0.657,6.80],[0.488,6.47],[0.524,5.86],[0.746,5.41],[0.990,5.52]],
 [[0.568,25.26],[0.480,25.32],[0.480,25.04],[0.568,25.04]],
 [[0.102,23.03],[0.027,23.09],[0.027,22.81],[0.102,22.81]],
 [[0.724,3.18],[0.604,3.35],[0.559,3.07],[0.693,2.84]],
 [[-0.564,3.74],[-0.639,3.96],[-0.684,3.57],[-0.608,3.35]],
 [[-0.586,12.72],[-0.719,12.94],[-0.861,12.60],[-0.719,12.38]],
 [[-1.208,20.30],[-1.341,20.41],[-1.363,20.13],[-1.217,20.02]],
 [[-1.208,17.51],[-1.319,17.74],[-1.439,17.46],[-1.319,17.23]],
 [[-0.941,7.03],[-1.021,7.19],[-1.074,6.97],[-1.008,6.80]],
 [[-1.217,7.75],[-1.319,7.97],[-1.350,7.58],[-1.252,7.42]],
 [[-0.697,-8.09],[-0.941,-7.19],[-1.274,-6.69],[-1.319,-7.08],[-0.963,-7.81],[-0.719,-8.53]],
 [[0.813,10.60],[0.746,10.71],[0.719,10.43],[0.799,10.26]],
 [[0.337,-4.68],[0.258,-4.68],[0.258,-4.85],[0.337,-4.85]],
 [[0.813,-7.53],[0.746,-7.42],[0.746,-7.64],[0.813,-7.70]],
 [[1.101,9.81],[1.048,9.81],[1.048,9.65],[1.101,9.65]]];

const J1234_pos = [
 [[0.259,-0.71],[0.173,0.04],[0.106,1.12],[0.029,2.01],[-0.048,2.41],[-0.163,2.41],[-0.230,2.41],[-0.250,2.90],[-0.250,3.39],[-0.346,3.69],[-0.355,3.19],[-0.346,2.70],[-0.317,2.41],[-0.278,1.91],[-0.288,1.22],[-0.374,0.63],[-0.509,0.34],[-0.566,0.04],[-0.557,-0.55],[-0.509,-0.95],[-0.413,-0.85],[-0.317,-0.75],[-0.250,-1.14],[-0.221,-1.74],[-0.259,-2.13],[-0.278,-2.82],[-0.278,-3.31],[-0.230,-3.51],[-0.163,-3.81],[-0.086,-2.92],[-0.010,-1.74],[0.029,-1.24],[0.106,-0.95]],
 [[0.109,0.04],[0.058,1.22],[-0.019,1.91],[-0.125,2.05],[-0.211,1.97],[-0.278,1.42],[-0.336,0.79],[-0.432,0.47],[-0.505,0.20],[-0.513,-0.39],[-0.480,-0.55],[-0.355,-0.32],[-0.298,-0.65],[-0.259,-1.14],[-0.211,-1.74],[-0.173,-1.83],[-0.086,-1.64],[0.010,-1.14],[0.058,-0.65]],
 [[0.086,0.14],[0.038,1.22],[-0.038,1.77],[-0.144,1.85],[-0.240,1.52],[-0.307,0.73],[-0.317,-0.16],[-0.278,-0.85],[-0.202,-1.34],[-0.086,-1.44],[0.000,-0.99],[0.058,-0.45]],
 [[0.063,0.24],[0.019,1.12],[-0.058,1.56],[-0.154,1.62],[-0.250,1.22],[-0.294,0.43],[-0.288,-0.45],[-0.221,-1.05],[-0.125,-1.24],[-0.019,-0.85],[0.038,-0.35]],
 [[0.038,0.24],[-0.010,1.06],[-0.086,1.36],[-0.173,1.32],[-0.250,0.83],[-0.269,0.04],[-0.240,-0.65],[-0.163,-0.99],[-0.067,-0.95],[0.010,-0.55]],
 [[0.013,0.24],[-0.067,0.99],[-0.154,0.93],[-0.205,0.34],[-0.182,-0.35],[-0.086,-0.61],[-0.006,-0.20]],
 [[0.298,4.28],[0.263,5.17],[0.221,4.22],[0.255,3.43],[0.288,3.55]],
 [[-0.230,5.56],[-0.336,6.39],[-0.422,5.66],[-0.384,5.27],[-0.259,4.77],[-0.230,4.97]],
 [[0.461,-3.51],[0.432,-3.37],[0.403,-3.55],[0.432,-3.67]],
 [[0.666,0.73],[0.657,0.59],[0.657,0.04],[0.666,0.00]]];
const J1234_open = [
 [[0.662,-5.92],[0.653,-5.64],[0.595,-5.44],[0.509,-5.32],[0.432,-5.38],[0.397,-5.64],[0.390,-5.92]],
 [[-0.144,-5.92],[-0.144,-4.93],[-0.202,-4.46],[-0.259,-4.69],[-0.317,-5.48],[-0.321,-5.92]],
 [[-0.202,-5.92],[-0.236,-5.36],[-0.269,-5.58],[-0.273,-5.92]]];
const J1234_neg = [
 [[0.125,5.46],[0.029,5.86],[-0.019,5.66],[-0.086,4.58],[-0.067,3.94],[0.000,3.59],[0.115,4.48],[0.129,5.17]],
 [[-0.470,4.28],[-0.509,4.67],[-0.547,4.22],[-0.509,4.02]],
 [[0.298,1.42],[0.250,1.72],[0.192,1.52],[0.182,1.12],[0.230,0.93],[0.288,1.22]],
 [[-0.301,-2.03],[-0.374,-1.38],[-0.432,-1.54],[-0.480,-2.09],[-0.442,-2.82],[-0.413,-3.02],[-0.346,-2.72],[-0.307,-2.43]],
 [[0.096,-3.51],[-0.010,-2.82],[-0.019,-3.31],[0.019,-3.90],[0.067,-4.10],[0.096,-3.90]],
 [[-0.336,-4.10],[-0.442,-3.51],[-0.480,-3.71],[-0.528,-5.48],[-0.451,-5.88],[-0.336,-5.68],[-0.317,-4.69]],
 [[0.275,-4.24],[0.250,-4.20],[0.250,-4.30],[0.275,-4.30]]];

const J1404_pos = [
 [[0.309,0.30],[0.280,1.67],[0.148,2.66],[-0.023,3.09],[-0.174,3.01],[-0.307,2.26],[-0.354,1.67],[-0.345,0.10],[-0.288,-0.89],[-0.174,-1.67],[-0.042,-1.83],[0.110,-1.57],[0.224,-0.89],[0.299,-0.30]],
 [[0.280,0.39],[0.252,1.57],[0.129,2.42],[-0.042,2.76],[-0.174,2.66],[-0.288,1.97],[-0.335,1.28],[-0.316,-0.10],[-0.250,-0.89],[-0.136,-1.38],[-0.004,-1.48],[0.129,-1.28],[0.233,-0.59]],
 [[0.243,0.39],[0.214,1.48],[0.091,2.17],[-0.061,2.36],[-0.193,2.17],[-0.279,1.48],[-0.298,0.69],[-0.279,-0.20],[-0.193,-0.89],[-0.042,-1.08],[0.091,-0.89],[0.205,-0.30]],
 [[0.208,0.49],[0.176,1.38],[0.072,1.87],[-0.070,2.07],[-0.193,1.77],[-0.260,1.08],[-0.260,0.20],[-0.203,-0.49],[-0.070,-0.79],[0.072,-0.59],[0.176,-0.10]],
 [[0.167,0.59],[0.129,1.28],[0.034,1.57],[-0.089,1.63],[-0.184,1.32],[-0.222,0.79],[-0.212,0.10],[-0.136,-0.30],[-0.023,-0.39],[0.091,-0.20],[0.152,0.20]],
 [[0.110,0.79],[0.063,1.32],[-0.042,1.57],[-0.136,1.32],[-0.174,0.89],[-0.171,0.30],[-0.108,-0.20],[-0.004,-0.30],[0.081,0.00],[0.110,0.39]]];
const J1404_open = [];
const J1404_neg = [];

const J1408_pos = [
 [[0.301,5.14],[0.272,5.99],[0.205,6.41],[0.109,7.12],[0.052,7.34],[0.004,7.97],[-0.063,9.24],[-0.159,9.38],[-0.312,8.81],[-0.389,7.82],[-0.427,6.55],[-0.417,5.00],[-0.331,4.58],[-0.341,4.01],[-0.427,2.32],[-0.475,0.90],[-0.481,0.20],[-0.437,-0.51],[-0.370,-0.93],[-0.255,-1.21],[-0.159,-1.07],[-0.044,-0.51],[0.033,0.90],[0.090,2.32],[0.147,3.59],[0.224,4.86]],
 [[0.272,5.28],[0.243,5.99],[0.176,6.55],[0.100,6.98],[0.004,7.40],[-0.034,8.11],[-0.082,8.81],[-0.178,8.96],[-0.293,8.53],[-0.360,7.68],[-0.393,6.41],[-0.389,5.14],[-0.303,4.44],[-0.312,3.73],[-0.408,2.03],[-0.446,0.76],[-0.437,0.06],[-0.370,-0.51],[-0.274,-0.79],[-0.159,-0.65],[-0.063,-0.08],[0.013,1.05],[0.080,2.60],[0.147,3.73],[0.224,4.72]],
 [[0.243,5.14],[0.205,5.93],[0.128,6.41],[0.033,6.55],[-0.025,6.98],[-0.082,7.82],[-0.159,8.11],[-0.274,7.82],[-0.341,6.98],[-0.350,5.99],[-0.331,5.14],[-0.274,4.29],[-0.293,3.45],[-0.370,2.03],[-0.408,0.90],[-0.398,0.20],[-0.331,-0.23],[-0.236,-0.37],[-0.140,-0.23],[-0.063,0.34],[0.004,1.33],[0.071,2.74],[0.147,3.73],[0.214,4.58]],
 [[0.214,5.14],[0.167,5.85],[0.080,6.27],[-0.025,6.41],[-0.101,6.98],[-0.178,7.26],[-0.264,6.98],[-0.303,5.99],[-0.283,4.86],[-0.245,4.01],[-0.274,2.88],[-0.341,1.75],[-0.370,0.76],[-0.312,0.20],[-0.216,0.06],[-0.121,0.28],[-0.054,0.90],[0.013,1.75],[0.071,3.02],[0.147,3.87],[0.195,4.44]],
 [[0.186,5.14],[0.128,5.76],[0.033,6.05],[-0.082,5.93],[-0.178,5.14],[-0.226,4.29],[-0.255,2.88],[-0.312,1.75],[-0.331,0.90],[-0.274,0.48],[-0.178,0.48],[-0.082,0.90],[-0.006,1.75],[0.071,3.16],[0.147,4.01]],
 [[0.147,5.14],[0.090,5.65],[-0.006,5.71],[-0.121,5.37],[-0.188,4.58],[-0.216,3.45],[-0.274,2.03],[-0.293,1.19],[-0.236,0.90],[-0.140,0.96],[-0.063,1.53],[0.004,2.46],[0.071,3.59],[0.128,4.29]],
 [[0.109,5.14],[0.052,5.57],[-0.044,5.37],[-0.140,4.72],[-0.178,3.73],[-0.226,2.18],[-0.255,1.47],[-0.197,1.27],[-0.111,1.47],[-0.044,2.18],[0.013,3.16],[0.080,4.15]],
 [[0.080,5.00],[0.033,5.42],[-0.063,5.14],[-0.140,4.35],[-0.159,3.73],[-0.111,3.45],[-0.034,3.87],[0.052,4.44]],
 [[-0.021,4.55],[-0.067,4.55],[-0.067,4.41],[-0.021,4.41]]];
const J1408_open = [];
const J1408_neg = [];

const J1429_pos = [
 [[0.111,1.53],[0.093,2.66],[0.037,3.45],[-0.025,3.90],[-0.086,3.96],[-0.148,3.45],[-0.222,3.33],[-0.284,2.66],[-0.296,1.64],[-0.290,0.86],[-0.259,0.07],[-0.210,-0.50],[-0.136,-0.95],[-0.062,-0.99],[0.012,-0.83],[0.074,-0.27],[0.105,0.63]],
 [[0.105,1.53],[0.080,2.54],[0.031,3.22],[-0.037,3.60],[-0.111,3.60],[-0.185,3.29],[-0.253,2.77],[-0.282,1.87],[-0.278,0.86],[-0.241,-0.05],[-0.185,-0.61],[-0.111,-0.83],[-0.037,-0.83],[0.037,-0.54],[0.086,0.07]],
 [[0.096,1.42],[0.068,2.43],[0.012,3.00],[-0.062,3.33],[-0.142,3.29],[-0.216,2.88],[-0.262,1.98],[-0.269,0.97],[-0.235,0.07],[-0.173,-0.50],[-0.086,-0.68],[0.000,-0.50],[0.062,-0.05],[0.091,0.63]],
 [[0.084,1.42],[0.056,2.25],[0.000,2.77],[-0.074,3.00],[-0.154,2.93],[-0.222,2.39],[-0.253,1.53],[-0.247,0.52],[-0.204,-0.16],[-0.136,-0.45],[-0.062,-0.50],[0.012,-0.27],[0.062,0.23],[0.080,0.74]],
 [[0.068,1.42],[0.037,2.16],[-0.019,2.54],[-0.086,2.70],[-0.161,2.54],[-0.216,1.98],[-0.235,1.19],[-0.222,0.29],[-0.173,-0.23],[-0.099,-0.34],[-0.025,-0.23],[0.031,0.18],[0.062,0.74]],
 [[0.049,1.42],[0.015,2.03],[-0.037,2.27],[-0.105,2.36],[-0.173,2.09],[-0.207,1.42],[-0.207,0.63],[-0.167,0.07],[-0.105,-0.09],[-0.037,0.00],[0.019,0.41],[0.047,0.86]],
 [[0.025,1.49],[-0.012,2.03],[-0.062,2.16],[-0.124,2.14],[-0.173,1.76],[-0.188,1.13],[-0.173,0.52],[-0.124,0.18],[-0.062,0.18],[-0.006,0.45],[0.021,0.97]],
 [[0.000,1.53],[-0.037,1.94],[-0.086,2.03],[-0.136,1.87],[-0.163,1.42],[-0.161,0.86],[-0.124,0.45],[-0.068,0.41],[-0.025,0.63],[-0.002,1.04]],
 [[-0.037,1.53],[-0.068,1.87],[-0.117,1.87],[-0.142,1.49],[-0.136,1.04],[-0.105,0.81],[-0.062,0.81],[-0.037,1.13]]];
const J1429_open = [];
const J1429_neg = [];

const posContours  = [J0030_pos,J0756_pos,J0838_pos,J0901_pos,J1028_pos,J1106_pos,J1123_pos,J1128_pos,J1144_pos,J1145_pos,J1153_pos,J1234_pos,J1404_pos,J1408_pos,J1429_pos];
const openContours = [J0030_open,J0756_open,J0838_open,J0901_open,J1028_open,J1106_open,J1123_open,J1128_open,J1144_open,J1145_open,J1153_open,J1234_open,J1404_open,J1408_open,J1429_open];
const negContours  = [J0030_neg,J0756_neg,J0838_neg,J0901_neg,J1028_neg,J1106_neg,J1123_neg,J1128_neg,J1144_neg,J1145_neg,J1153_neg,J1234_neg,J1404_neg,J1408_neg,J1429_neg];

// ---------------- Layout ----------------
// map frames in page pixels: [left, right, top, bottom]
const frames = [
  [92.3,366,7.3,222.7],[472.3,741.7,7.3,221.7],[847.3,1115,8.3,220],
  [92.3,366,269.3,483.7],[472.3,740.7,271.3,482],[847.3,1115,270,481.7],
  [97.3,366.7,531,745],[472.3,740.7,532,743.7],[841.7,1115.7,531.7,745.7],
  [97.3,366.7,794.3,1007.7],[472.3,741.7,794,1008],[847.7,1115,793.7,1007.7],
  [98,366,1056.3,1269.7],[475,744,1055.7,1270.7],[846.7,1115.7,1057.3,1267.3]];
// horizontal shifts applied to RA labels so that long labels do not collide
const raLabelShift = [[0,0,0],[0,0,0],[0,0,0],[0,0,0],[0,0,0],[0,0,0],[0,0,0],[0,0],[39,0,0],
  [4,0,6],[0,0,0],[-26,0,0],[-11,0,-4],[18,4,0,-37],[0,0,0]];

const SX = 1.15;                 // horizontal stretch of the lettering
const RED = "#e5403a", NEG = "#9a9a9a", FRAME = "#8a8a8a", TICK = "#444";

const svg = d3.select("#fig");
const closedLine = d3.line().curve(d3.curveLinearClosed);
const openLine = d3.line();

function label(g, x, y, str, anchor, size, extra) {
  return g.append("text")
    .attr("transform", `translate(${x},${y}) scale(${SX},1)${extra || ""}`)
    .attr("text-anchor", anchor)
    .style("font-size", size + "px")
    .text(str);
}

names.forEach((name, i) => {
  const [L, R, T, B] = frames[i];
  const x = d3.scaleLinear().domain(raRange[i]).range([L, R]);
  const y = d3.scaleLinear().domain(decRange[i]).range([B, T]);
  const g = svg.append("g").attr("class", "map");
  const proj = d => [x(d[0]), y(d[1])];

  const clipId = "clip" + i;
  svg.append("clipPath").attr("id", clipId)
    .append("rect").attr("x", L).attr("y", T).attr("width", R - L).attr("height", B - T);
  const plot = g.append("g").attr("clip-path", `url(#${clipId})`);

  plot.selectAll("path.neg").data(negContours[i]).join("path")
    .attr("class", "neg").attr("d", c => closedLine(c.map(proj)))
    .attr("fill", "none").attr("stroke", NEG).attr("stroke-width", 0.9).attr("stroke-dasharray", "3,2");
  plot.selectAll("path.pos").data(posContours[i]).join("path")
    .attr("class", "pos").attr("d", c => closedLine(c.map(proj)))
    .attr("fill", "none").attr("stroke", RED).attr("stroke-width", 1);
  plot.selectAll("path.open").data(openContours[i]).join("path")
    .attr("class", "open").attr("d", c => openLine(c.map(proj)))
    .attr("fill", "none").attr("stroke", RED).attr("stroke-width", 1);

  // restoring beam in the lower right corner
  const [ba, bb, bpa] = beams[i];
  const rx = Math.abs(x(ba) - x(0)), ry = Math.abs(y(bb) - y(0));
  const th = bpa * Math.PI / 180;
  const hx = Math.sqrt(rx * rx * Math.cos(th) ** 2 + ry * ry * Math.sin(th) ** 2);
  const hy = Math.sqrt(rx * rx * Math.sin(th) ** 2 + ry * ry * Math.cos(th) ** 2);
  const bw = 2 * hx + 11, bh = 2 * hy + 10;
  const bx1 = R - 5, by1 = B - 4;
  plot.append("rect").attr("x", bx1 - bw).attr("y", by1 - bh).attr("width", bw).attr("height", bh)
    .attr("fill", "#fff").attr("stroke", "#666").attr("stroke-width", 0.9);
  plot.append("ellipse").attr("cx", 0).attr("cy", 0).attr("rx", rx).attr("ry", ry)
    .attr("transform", `translate(${bx1 - bw / 2},${by1 - bh / 2}) rotate(${bpa})`)
    .attr("fill", "none").attr("stroke", "#666").attr("stroke-width", 0.9);

  // frame
  g.append("rect").attr("x", L).attr("y", T).attr("width", R - L).attr("height", B - T)
    .attr("fill", "none").attr("stroke", FRAME).attr("stroke-width", 1);

  // ticks on all four sides, pointing outwards
  const inside = (v, dom) => v >= Math.min(...dom) - 1e-9 && v <= Math.max(...dom) + 1e-9;
  const step = (s, dom) => {
    const lo = Math.ceil(Math.min(...dom) / s - 1e-9), hi = Math.floor(Math.max(...dom) / s + 1e-9);
    return d3.range(lo, hi + 1).map(k => +(k * s).toFixed(4));
  };
  const xMaj = raTicks[i].filter(v => inside(v, raRange[i]));
  const yMaj = decTicks[i].filter(v => inside(v, decRange[i]));
  const xMin = step(raMinor[i], raRange[i]);
  const yMin = step(decMinor[i], decRange[i]);
  const axisGroup = (axis, tx, ty) => g.append("g").attr("transform", `translate(${tx},${ty})`)
    .attr("color", TICK).call(axis).call(a => a.select(".domain").remove());
  [[d3.axisBottom, 0, B], [d3.axisTop, 0, T]].forEach(([ax, tx, ty]) => {
    axisGroup(ax(x).tickValues(xMin).tickSize(3).tickFormat(""), tx, ty);
    axisGroup(ax(x).tickValues(xMaj).tickSize(6).tickFormat(""), tx, ty);
  });
  [[d3.axisLeft, L, 0], [d3.axisRight, R, 0]].forEach(([ax, tx, ty]) => {
    axisGroup(ax(y).tickValues(yMin).tickSize(3).tickFormat(""), tx, ty);
    axisGroup(ax(y).tickValues(yMaj).tickSize(6).tickFormat(""), tx, ty);
  });
  g.selectAll(".tick line").attr("stroke-width", 0.9);

  // tick labels
  raTicks[i].forEach((v, k) => label(g, x(v) + raLabelShift[i][k], B + 12.5, raLabels[i][k], "middle", 13.3));
  decTicks[i].forEach((v, k) => label(g, L - 4, y(v) + 4.6, decLabels[i][k], "end", 13.6));

  // source name and axis titles
  label(g, L + 4, T + 24, name, "start", 13);
  label(g, (L + R) / 2, B + 35, "RA (J2000)", "middle", 17.5);
  label(g, L - 64, (T + B) / 2, "Dec (J2000)", "middle", 17.5, " rotate(-90)");
});
</script>
</body></html>
